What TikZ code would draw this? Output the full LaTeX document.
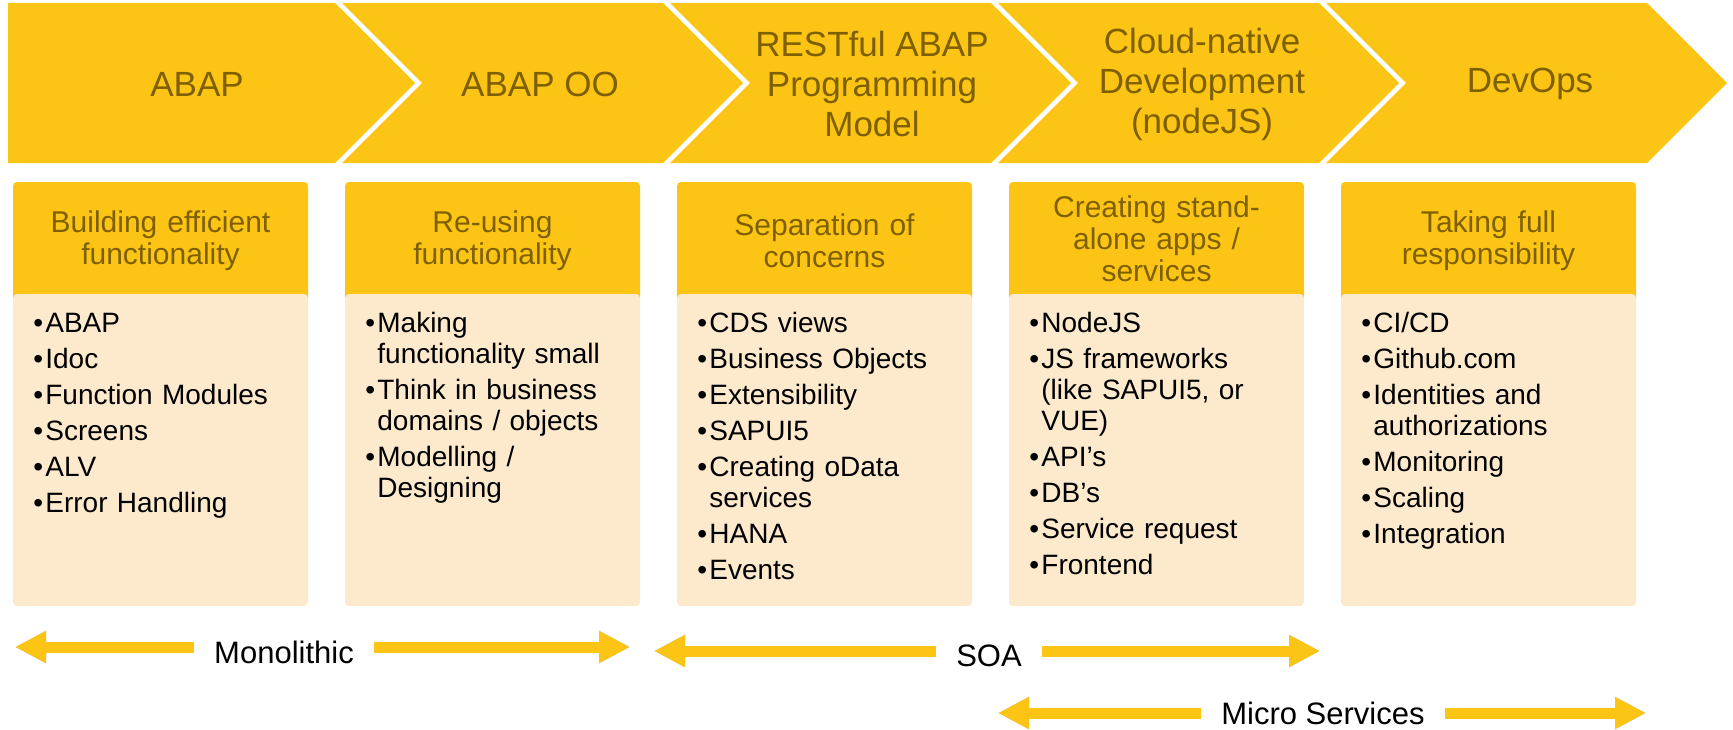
\documentclass[tikz,border=0pt]{standalone}
\usepackage{xcolor}
\usepackage{fontspec}
\setmainfont{Liberation Sans}
\usetikzlibrary{arrows.meta}

\definecolor{oro}{HTML}{FCC515}
\definecolor{crema}{HTML}{FDEACD}
\definecolor{ocre}{HTML}{7F6000}

% viñeta con sangría francesa
\newcommand{\itm}[1]{\par\noindent\hangindent=6pt\hangafter=1\makebox[6pt][l]{•}#1\par}

\tikzset{
  titulo/.style={text=ocre, align=center, inner sep=0pt,
    font=\fontsize{17.5}{20}\selectfont},
  cabecera/.style={text=ocre, align=center, inner sep=0pt, text width=135pt,
    font=\fontsize{15}{16}\selectfont},
  cuerpo/.style={anchor=north west, align=left, inner sep=0pt, text width=138pt,
    font=\fontsize{14}{15.5}\selectfont\setlength{\parskip}{2.5pt}},
  flecha/.style={draw=oro, line width=5.5pt,
    {Triangle[width=15pt,length=15.5pt]}-{Triangle[width=15pt,length=15.5pt]}},
  sombra/.style={draw=black!28, line width=5.5pt, xshift=1.5pt, yshift=-3pt,
    {Triangle[width=15pt,length=15.5pt]}-{Triangle[width=15pt,length=15.5pt]}},
  etiqueta/.style={fill=white, inner xsep=10pt, inner ysep=2pt,
    font=\fontsize{15.5}{18}\selectfont}
}

\begin{document}
\begin{tikzpicture}[x=0.5pt, y=-0.5pt]
        \useasboundingbox (0,0) rectangle (1733,729);

        % Paso 1: Dibuja los cinco chevrones de la fila superior
        \fill[oro] (8,3) -- (335,3) -- (415,83) -- (335,163) -- (8,163) -- cycle;
        \foreach \i in {1,...,4} {
          \pgfmathsetmacro{\xa}{14+328*\i}
          \fill[oro] (\xa,3) -- ++(321,0) -- ++(80,80) -- ++(-80,80)
            -- ++(-321,0) -- ++(80,-80) -- cycle;
        }

        % Paso 2: Coloca el nombre de cada etapa
        \foreach \x/\txt [count=\n] in {197/{ABAP}, 540/{ABAP OO},
            872/{RESTful ABAP\\Programming\\Model},
            1202/{Cloud-native\\Development\\(nodeJS)}, 1530/{DevOps}}
          \node[titulo] (chev\n) at (\x,84) {\txt};

        % Paso 3: Cajas con cabecera amarilla y cuerpo crema
        \foreach \i in {0,...,4} {
          \pgfmathsetmacro{\xb}{13+332*\i}
          \fill[oro, rounded corners=2pt] (\xb,182) rectangle ++(295,120);
          \fill[crema, rounded corners=2pt] (\xb,294) rectangle ++(295,312);
        }

        % Paso 4: Texto de las cabeceras
        \node[cabecera] (head1) at (160.5,241) {Building efficient\\functionality};
        \node[cabecera] (head2) at (492.5,241) {Re-using\\functionality};
        \node[cabecera] (head3) at (824.5,241) {Separation of\\concerns};
        \node[cabecera] (head4) at (1156.5,239) {Creating stand-\\alone apps /\\services};
        \node[cabecera] (head5) at (1488.5,241) {Taking full\\responsibility};

        % Paso 5: Listas de cada caja
        \node[cuerpo] (body1) at (33,296) {\itm{ABAP}\itm{Idoc}\itm{Function Modules}%
          \itm{Screens}\itm{ALV}\itm{Error Handling}};
        \node[cuerpo] (body2) at (365,296) {\itm{Making\newline functionality small}%
          \itm{Think in business\newline domains / objects}\itm{Modelling /\newline Designing}};
        \node[cuerpo] (body3) at (697,296) {\itm{CDS views}\itm{Business Objects}%
          \itm{Extensibility}\itm{SAPUI5}\itm{Creating oData\newline services}%
          \itm{HANA}\itm{Events}};
        \node[cuerpo] (body4) at (1029,296) {\itm{NodeJS}%
          \itm{JS frameworks\newline (like SAPUI5, or\newline VUE)}\itm{API’s}\itm{DB’s}%
          \itm{Service request}\itm{Frontend}};
        \node[cuerpo] (body5) at (1361,296) {\itm{CI/CD}\itm{Github.com}%
          \itm{Identities and\newline authorizations}\itm{Monitoring}\itm{Scaling}%
          \itm{Integration}};

        % Paso 6: Flechas dobles con su sombra
        \coordinate (monoL) at (15,647);  \coordinate (monoR) at (630,647);
        \coordinate (soaL) at (654,651);  \coordinate (soaR) at (1320,651);
        \coordinate (microL) at (998,713); \coordinate (microR) at (1646,713);
        \foreach \a/\b in {monoL/monoR, soaL/soaR, microL/microR} {
          \draw[sombra] (\a) -- (\b);
          \draw[flecha] (\a) -- (\b);
        }

        % Paso 7: Etiquetas sobre las flechas
        \node[etiqueta] (mono) at (284,652) {Monolithic};
        \node[etiqueta] (soa) at (989,656) {SOA};
        \node[etiqueta] (micro) at (1323,713) {Micro Services};
    \end{tikzpicture}
\end{document}
